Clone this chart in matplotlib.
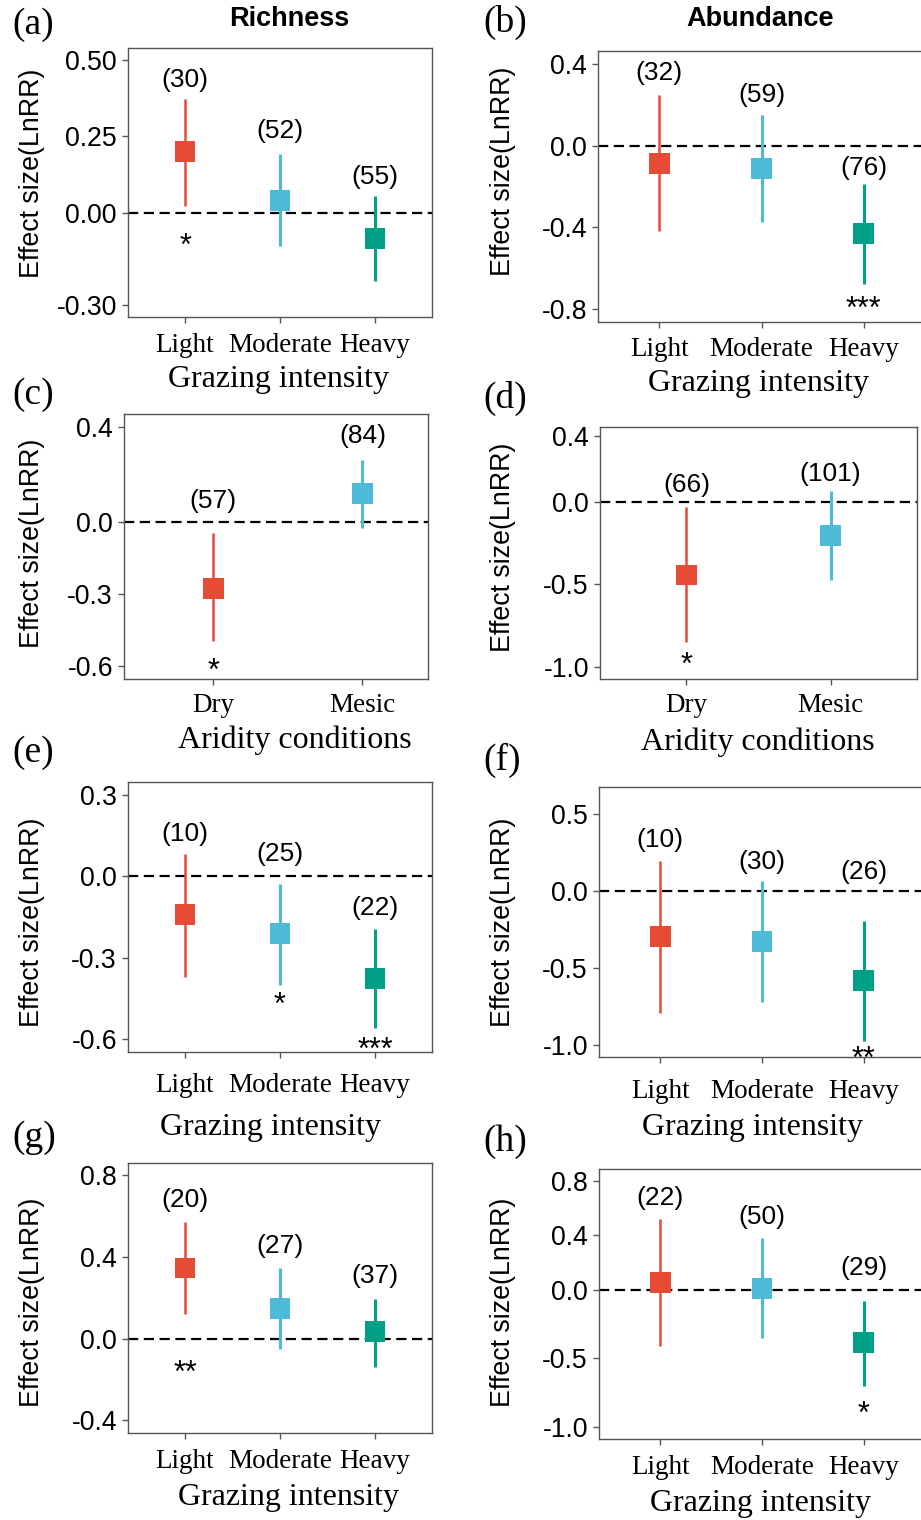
#!/usr/bin/env python3
"""
Grazing effect sizes (LnRR) on richness and abundance, 8 panels (a-h).
Saves: out.png
"""

import matplotlib.pyplot as plt
import numpy as np

W, H, DPI = 921, 1520, 100
PT = 72.0 / DPI  # px -> pt

SANS = "Liberation Sans"
SERIF = "Liberation Serif"

RED, BLUE, GREEN = "#E64B35", "#4DBBD5", "#00A087"
SPINE = "#555555"

GRAZING = ["Light", "Moderate", "Heavy"]
ARIDITY = ["Dry", "Mesic"]

# ---- data ----
a_mean = [0.200, 0.041, -0.084]
a_low = [0.023, -0.108, -0.222]
a_high = [0.373, 0.193, 0.054]
a_n = [30, 52, 55]
a_n_y = [0.433, 0.267, 0.117]
a_sig = ["*", "", ""]
a_sig_y = [-0.078, np.nan, np.nan]

b_mean = [-0.087, -0.111, -0.429]
b_low = [-0.421, -0.377, -0.678]
b_high = [0.248, 0.150, -0.189]
b_n = [32, 59, 76]
b_n_y = [0.357, 0.248, -0.111]
b_sig = ["", "", "***"]
b_sig_y = [np.nan, np.nan, -0.756]

c_mean = [-0.275, 0.120]
c_low = [-0.495, -0.024]
c_high = [-0.045, 0.262]
c_n = [57, 84]
c_n_y = [0.088, 0.360]
c_sig = ["*", ""]
c_sig_y = [-0.582, np.nan]

d_mean = [-0.443, -0.205]
d_low = [-0.851, -0.473]
d_high = [-0.030, 0.064]
d_n = [66, 101]
d_n_y = [0.100, 0.171]
d_sig = ["*", ""]
d_sig_y = [-0.936, np.nan]

e_mean = [-0.143, -0.213, -0.376]
e_low = [-0.373, -0.400, -0.560]
e_high = [0.083, -0.029, -0.196]
e_n = [10, 25, 22]
e_n_y = [0.154, 0.083, -0.119]
e_sig = ["", "*", "***"]
e_sig_y = [np.nan, -0.443, -0.609]

f_mean = [-0.297, -0.329, -0.582]
f_low = [-0.794, -0.725, -0.974]
f_high = [0.197, 0.067, -0.195]
f_n = [10, 30, 26]
f_n_y = [0.335, 0.190, 0.126]
f_sig = ["", "", "**"]
f_sig_y = [np.nan, np.nan, -1.037]

g_mean = [0.346, 0.147, 0.033]
g_low = [0.121, -0.051, -0.139]
g_high = [0.571, 0.346, 0.196]
g_n = [20, 27, 37]
g_n_y = [0.681, 0.456, 0.305]
g_sig = ["**", "", ""]
g_sig_y = [-0.127, np.nan, np.nan]

h_mean = [0.054, 0.012, -0.385]
h_low = [-0.407, -0.354, -0.700]
h_high = [0.517, 0.378, -0.080]
h_n = [22, 50, 29]
h_n_y = [0.671, 0.537, 0.159]
h_sig = ["", "", "*"]
h_sig_y = [np.nan, np.nan, -0.841]

a_ticks = [-0.30, 0.00, 0.25, 0.50]
b_ticks = [-0.8, -0.4, 0.0, 0.4]
c_ticks = [-0.6, -0.3, 0.0, 0.4]
d_ticks = [-1.0, -0.5, 0.0, 0.4]
e_ticks = [-0.6, -0.3, 0.0, 0.3]
f_ticks = [-1.0, -0.5, 0.0, 0.5]
g_ticks = [-0.4, 0.0, 0.4, 0.8]
h_ticks = [-1.0, -0.5, 0.0, 0.4, 0.8]

PANELS = [
    # letter, cats, mean, low, high, n, n_y, sig, sig_y, ticks, ylim, xlabel
    ("a", GRAZING, a_mean, a_low, a_high, a_n, a_n_y, a_sig, a_sig_y, a_ticks, (-0.340, 0.539), "Grazing intensity"),
    ("b", GRAZING, b_mean, b_low, b_high, b_n, b_n_y, b_sig, b_sig_y, b_ticks, (-0.865, 0.464), "Grazing intensity"),
    ("c", ARIDITY, c_mean, c_low, c_high, c_n, c_n_y, c_sig, c_sig_y, c_ticks, (-0.654, 0.453), "Aridity conditions"),
    ("d", ARIDITY, d_mean, d_low, d_high, d_n, d_n_y, d_sig, d_sig_y, d_ticks, (-1.072, 0.453), "Aridity conditions"),
    ("e", GRAZING, e_mean, e_low, e_high, e_n, e_n_y, e_sig, e_sig_y, e_ticks, (-0.648, 0.3465), "Grazing intensity"),
    ("f", GRAZING, f_mean, f_low, f_high, f_n, f_n_y, f_sig, f_sig_y, f_ticks, (-1.080, 0.677), "Grazing intensity"),
    ("g", GRAZING, g_mean, g_low, g_high, g_n, g_n_y, g_sig, g_sig_y, g_ticks, (-0.462, 0.860), "Grazing intensity"),
    ("h", GRAZING, h_mean, h_low, h_high, h_n, h_n_y, h_sig, h_sig_y, h_ticks, (-1.090, 0.885), "Grazing intensity"),
]

# ---- layout in pixels ----
# box: x0, x1, ytop, ybottom ; xlim ; ylabel centre ; cat-label offset ; xlabel centre ; panel tag
LAYOUT = {
    "a": dict(box=(128, 432, 48, 317), xlim=(0.4, 3.6), ylab=(32, 173), cat=28, xlab=(278, 380), tag=(12, 25)),
    "b": dict(box=(598, 925, 51, 322), xlim=(0.4, 3.6), ylab=(503, 171), cat=28, xlab=(758, 383), tag=(483, 22)),
    "c": dict(box=(124, 428, 414, 679), xlim=(0.4, 2.44), ylab=(32, 543), cat=26, xlab=(295, 740), tag=(12, 395)),
    "d": dict(box=(600, 917, 427, 679), xlim=(0.4, 2.6), ylab=(503, 547), cat=26, xlab=(758, 742), tag=(483, 398)),
    "e": dict(box=(128, 432, 782, 1052), xlim=(0.4, 3.6), ylab=(32, 922), cat=33, xlab=(271, 1128), tag=(12, 753)),
    "f": dict(box=(599, 925, 787, 1057), xlim=(0.4, 3.6), ylab=(503, 922), cat=35, xlab=(752, 1128), tag=(483, 760)),
    "g": dict(box=(128, 432, 1163, 1433), xlim=(0.4, 3.6), ylab=(32, 1302), cat=29, xlab=(288, 1498), tag=(12, 1138)),
    "h": dict(box=(599, 925, 1169, 1439), xlim=(0.4, 3.6), ylab=(503, 1302), cat=29, xlab=(761, 1503), tag=(483, 1142)),
}
TITLES = {"a": ("Richness", 289, 27), "b": ("Abundance", 760, 27)}

COLORS = [RED, BLUE, GREEN]
LINE_W = [1.8, 2.2, 2.2]
TICK_LEN = 4.5


def draw_panel(fig, spec):
    letter, cats, mean, low, high, n, n_y, sig, sig_y, ticks, ylim, xlabel = spec
    lay = LAYOUT[letter]
    x0, x1, yt, yb = lay["box"]
    wpx, hpx = x1 - x0, yb - yt
    ax = fig.add_axes([x0 / W, 1 - yb / H, wpx / W, hpx / H])

    x = np.arange(1, len(cats) + 1)
    cols = COLORS[:len(cats)]

    ax.axhline(0, color="black", lw=1.6, dashes=(4.6, 2.5), zorder=1)
    ax.vlines(x, low, high, colors=cols, linewidths=LINE_W[:len(cats)], zorder=2)
    ax.scatter(x, mean, marker="s", s=15.0 ** 2, c=cols, linewidths=0, zorder=3)

    for xi, ni, yi in zip(x, n, n_y):
        ax.text(xi, yi, f"({ni})", ha="center", va="center",
                fontsize=19, fontfamily=SANS)
    for xi, s, yi in zip(x, sig, sig_y):
        if s:
            ax.annotate(s, (xi, yi), xytext=(0, -7), textcoords="offset points",
                        ha="center", va="center", fontsize=22, fontfamily=SANS)

    ax.set_xlim(*lay["xlim"])
    ax.set_ylim(*ylim)

    fmt = "{:.2f}" if letter == "a" else "{:.1f}"
    ax.set_yticks(ticks, labels=[fmt.format(t) for t in ticks],
                  fontsize=19.2, fontfamily=SANS)
    pad = lay["cat"] * PT - TICK_LEN
    ax.set_xticks(x, labels=cats, fontsize=19.5, fontfamily=SERIF, va="center")
    ax.tick_params(axis="x", length=TICK_LEN, width=1, color=SPINE, pad=pad)
    ax.tick_params(axis="y", length=TICK_LEN, width=1, color=SPINE, pad=3.5)

    for sp in ax.spines.values():
        sp.set_color(SPINE)
        sp.set_linewidth(1.0)

    ax.set_ylabel("Effect size(LnRR)", fontsize=19.3, fontfamily=SANS,
                  va="center", ha="center")
    lx, ly = lay["ylab"]
    ax.yaxis.set_label_coords((lx - x0) / wpx, (yb - ly) / hpx)

    ax.set_xlabel(xlabel, fontsize=23, fontfamily=SERIF, va="center")
    lx, ly = lay["xlab"]
    ax.xaxis.set_label_coords((lx - x0) / wpx, (yb - ly) / hpx)

    if letter in TITLES:
        title, tx, ty = TITLES[letter]
        ax.set_title(title, fontsize=19.5, fontweight="bold", fontfamily=SANS,
                     x=(tx - x0) / wpx, y=(yb - ty) / hpx, va="center")

    tx, ty = lay["tag"]
    fig.text(tx / W, 1 - ty / H, f"({letter})", ha="left", va="center",
             fontsize=27, fontfamily=SERIF)


def main():
    fig = plt.figure(figsize=(W / DPI, H / DPI), dpi=DPI)
    for spec in PANELS:
        draw_panel(fig, spec)
    fig.savefig("out.png", dpi=DPI)
    plt.close(fig)


if __name__ == "__main__":
    main()
